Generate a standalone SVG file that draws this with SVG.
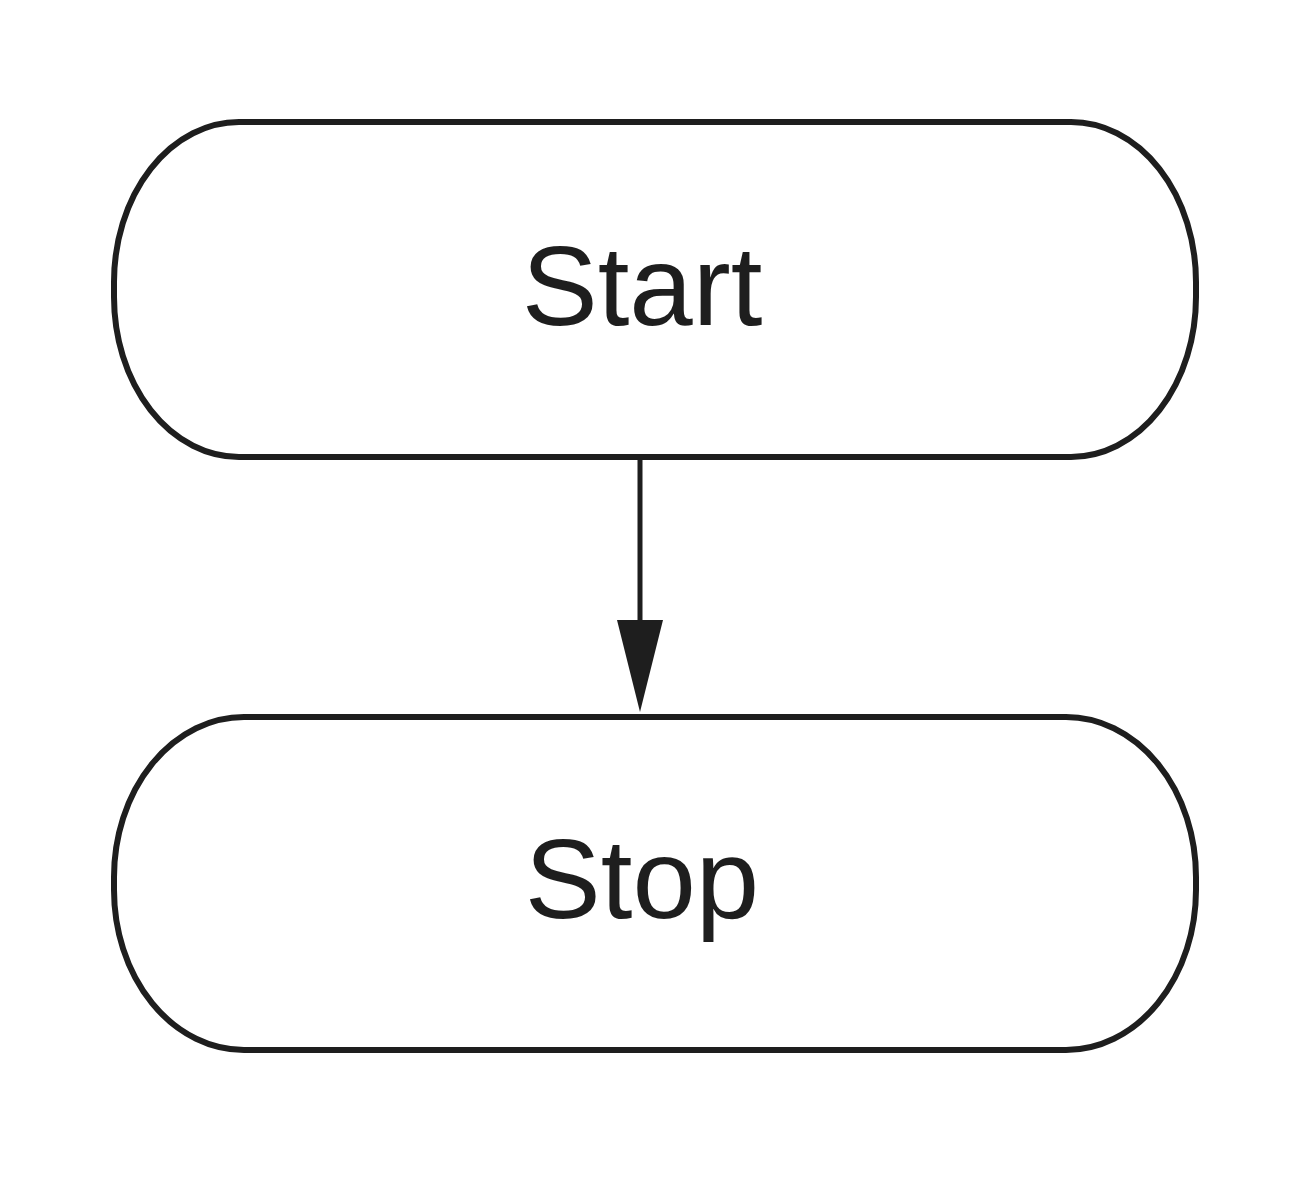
<svg xmlns="http://www.w3.org/2000/svg" width="1292" height="1200" viewBox="0 0 1292 1200">
<style>
.node{fill:#ffffff;stroke:#1e1e1e;stroke-width:6}
.lbl{font-family:"Liberation Sans",Arial,sans-serif;font-size:114px;fill:#1e1e1e;text-anchor:middle}
.edge{stroke:#1e1e1e;stroke-width:5;fill:none}
</style>
<defs>
<marker id="arr" markerUnits="userSpaceOnUse" markerWidth="92" markerHeight="46" refX="80" refY="23" orient="auto" viewBox="0 0 92 46">
<path d="M0,0 L92,23 L0,46 Z" fill="#1e1e1e"/>
</marker>
</defs>
<rect width="1292" height="1200" fill="#ffffff"/>
<g id="start">
<rect class="node" x="114" y="122" width="1082" height="335" rx="125" ry="160"/>
<text class="lbl" x="642" y="325">Start</text>
</g>
<g id="stop">
<rect class="node" x="114" y="717" width="1082" height="333" rx="130" ry="160"/>
<text class="lbl" x="642" y="918">Stop</text>
</g>
<g id="connectors">
<line class="edge" x1="640" y1="457" x2="640" y2="700" marker-end="url(#arr)"/>
</g>
</svg>
